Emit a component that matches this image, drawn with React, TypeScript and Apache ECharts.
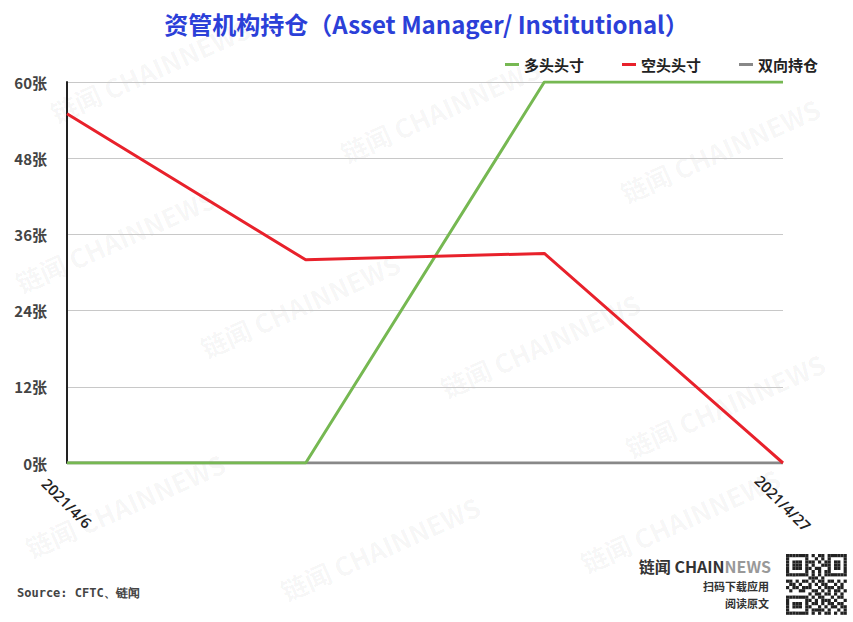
import React, { useEffect, useRef } from "react";
import * as echarts from "echarts";

const categories = ["2021/4/6", "2021/4/13", "2021/4/20", "2021/4/27"];
const longValues = [0, 0, 60, 60];
const shortValues = [55, 32, 33, 0];
const spreadValues = [0, 0, 0, 0];
const seriesNames = ["多头头寸", "空头头寸", "双向持仓"];
const yTicks = { min: 0, max: 60, interval: 12 };

const qrRows = [
  "1111111010110111111",
  "1000001001010100001",
  "1011101110101101101",
  "1011101010011101101",
  "1011101101100101101",
  "1000001010101100001",
  "1111111010101111111",
  "0000000111010000000",
  "1101011010110110101",
  "0110100101011001010",
  "1011011100101110110",
  "0100110011010101101",
  "0000000101101101010",
  "1111111010110010110",
  "1000001101011101001",
  "1011101011010110110",
  "1011101100101011011",
  "1000001011110100101",
  "1111111010101101011",
];

const watermarks = [
  [150, 70],
  [440, 110],
  [720, 150],
  [115, 240],
  [300, 305],
  [540, 345],
  [725, 405],
  [125, 505],
  [380, 548],
  [680, 520],
];

export default function App() {
  const ref = useRef<HTMLDivElement>(null);
  useEffect(() => {
    if (!ref.current) return;
    const chart = echarts.init(ref.current, null, { renderer: "svg" });
    const cell = 3.2;
    const qrChildren: any[] = [];
    qrRows.forEach((row, r) => {
      row.split("").forEach((c, k) => {
        if (c === "1")
          qrChildren.push({
            type: "rect",
            shape: { x: k * cell, y: r * cell, width: cell, height: cell },
            style: { fill: "#222" },
          });
      });
    });
    const wm = watermarks.map(([x, y]) => ({
      type: "text",
      x,
      y,
      rotation: (24 * Math.PI) / 180,
      z: -10,
      style: {
        text: "链闻 CHAINNEWS",
        fill: "rgba(0,0,0,0.045)",
        font: "bold 26px 'Noto Sans CJK SC', sans-serif",
        align: "center",
        verticalAlign: "middle",
      },
    }));
    chart.setOption({
      animation: false,
      backgroundColor: "#ffffff",
      title: {
        text: "资管机构持仓（Asset Manager/ Institutional）",
        left: "center",
        top: 6,
        textStyle: {
          color: "#2b40d8",
          fontSize: 24,
          fontWeight: "bold",
          fontFamily: "'Noto Sans CJK SC', sans-serif",
        },
      },
      legend: {
        data: seriesNames,
        right: 30,
        top: 52,
        icon: "rect",
        itemWidth: 14,
        itemHeight: 3,
        itemGap: 38,
        textStyle: {
          color: "#222",
          fontSize: 15,
          fontWeight: "bold",
          fontFamily: "'Noto Sans CJK SC', sans-serif",
        },
      },
      grid: { left: 67, right: 70, top: 82, bottom: 159, containLabel: false },
      xAxis: {
        type: "category",
        data: categories,
        boundaryGap: false,
        axisLine: { show: false },
        axisTick: { show: false },
        axisLabel: {
          interval: 2,
          rotate: -45,
          align: "center",
          verticalAlign: "middle",
          margin: 40,
          color: "#222",
          fontSize: 15,
          fontWeight: 600,
          fontFamily: "'Open Sans', sans-serif",
        },
      },
      yAxis: {
        type: "value",
        min: yTicks.min,
        max: yTicks.max,
        interval: yTicks.interval,
        axisLine: { show: true, lineStyle: { color: "#222", width: 2 } },
        axisTick: { show: false },
        splitLine: { lineStyle: { color: "#c8c8c8", width: 1 } },
        axisLabel: {
          formatter: "{value}张",
          margin: 20,
          color: "#444",
          fontSize: 15,
          fontWeight: "bold",
          fontFamily: "'Noto Sans CJK SC', sans-serif",
        },
      },
      series: [
        {
          name: seriesNames[0],
          type: "line",
          data: longValues,
          symbol: "none",
          z: 3,
          lineStyle: { color: "#76b852", width: 3 },
          itemStyle: { color: "#76b852" },
        },
        {
          name: seriesNames[1],
          type: "line",
          data: shortValues,
          symbol: "none",
          z: 4,
          lineStyle: { color: "#e8212b", width: 3 },
          itemStyle: { color: "#e8212b" },
        },
        {
          name: seriesNames[2],
          type: "line",
          data: spreadValues,
          symbol: "none",
          z: 2,
          lineStyle: { color: "#888888", width: 3 },
          itemStyle: { color: "#888888" },
        },
      ],
      graphic: [
        ...wm,
        {
          type: "text",
          left: 17,
          top: 587,
          style: {
            text: "Source: CFTC、链闻",
            fill: "#444",
            font: "bold 12px 'DejaVu Sans Mono', monospace",
          },
        },
        {
          type: "text",
          x: 771,
          y: 566,
          style: {
            rich: {
              a: { fill: "#333", font: "bold 16px 'Noto Sans CJK SC', sans-serif" },
              b: { fill: "#999", font: "bold 16px 'Noto Sans CJK SC', sans-serif" },
            },
            text: "{a|链闻 CHAIN}{b|NEWS}",
            align: "right",
            verticalAlign: "middle",
          },
        },
        {
          type: "text",
          x: 769,
          y: 586,
          style: {
            text: "扫码下载应用",
            fill: "#333",
            font: "bold 11px 'Noto Sans CJK SC', sans-serif",
            align: "right",
            verticalAlign: "middle",
          },
        },
        {
          type: "text",
          x: 769,
          y: 603,
          style: {
            text: "阅读原文",
            fill: "#333",
            font: "bold 11px 'Noto Sans CJK SC', sans-serif",
            align: "right",
            verticalAlign: "middle",
          },
        },
        {
          type: "group",
          x: 786,
          y: 554,
          children: qrChildren,
        },
      ],
    });
    return () => chart.dispose();
  }, []);
  return (
    <div
      ref={ref}
      style={{ position: "fixed", left: 0, top: 0, width: 853, height: 622 }}
    />
  );
}
